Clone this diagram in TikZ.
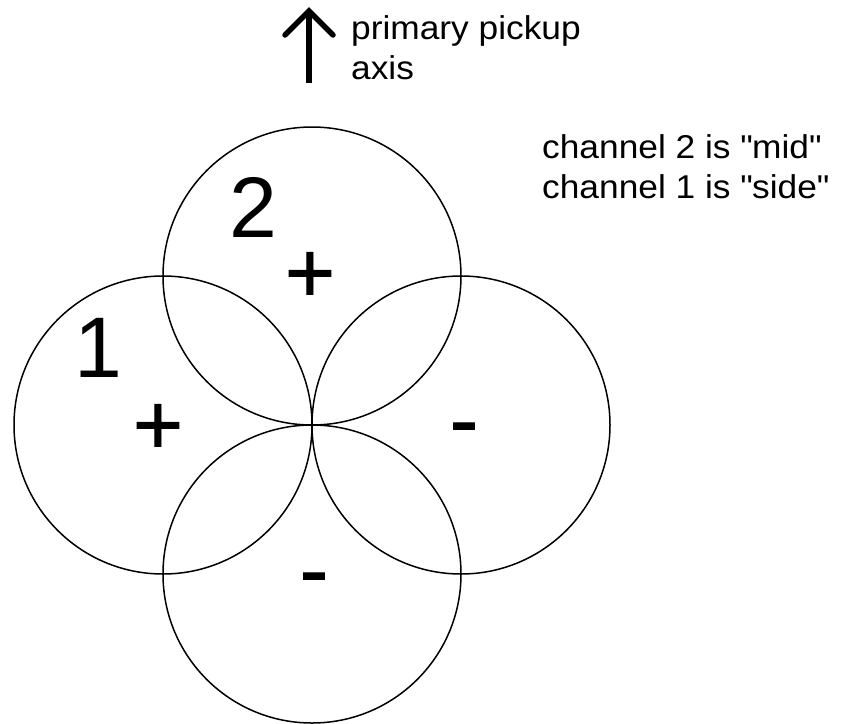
\documentclass[tikz,border=0pt]{standalone}
\usepackage{fontspec}
\setmainfont{Liberation Sans}
\newfontfamily\lblfont[FakeStretch=1.07]{Liberation Sans}
\newfontfamily\signfont[FakeBold=1]{Liberation Sans}
\begin{document}
\begin{tikzpicture}[x=1pt,y=-1pt,
  lobe/.style={draw, circle, line width=1.5pt, minimum size=298pt, inner sep=0pt},
  bigdigit/.style={font=\fontsize{86}{86}\selectfont, inner sep=0pt, anchor=base west},
  bigsign/.style={font=\signfont\fontsize{86}{86}\selectfont, inner sep=0pt, anchor=base},
  smalltxt/.style={font=\lblfont\fontsize{33}{40}\selectfont, inner sep=0pt, anchor=base west, align=left},
  axisline/.style={line width=5.5pt}]
\useasboundingbox (0,0) rectangle (846,723);
% circles
\node[lobe] (top) at (312,276) {};
\node[lobe] (left) at (163,425) {};
\node[lobe] (right) at (461,425) {};
\node[lobe] (bottom) at (312,574) {};
% centre cross
\coordinate (c) at (312,425);
\draw[line width=2pt] ([xshift=-6pt]c) -- ([xshift=6pt]c) ([yshift=-6pt]c) -- ([yshift=6pt]c);
% labels
\node[bigdigit] (n2) at (229,237) {2};
\node[bigdigit] (n1) at (74,377) {1};
\node[bigsign] (ptop) at (310,302) {+};
\node[bigsign] (pleft) at (158,454) {+};
\node[bigsign] (mright) at (464,449) {-};
\node[bigsign] (mbottom) at (314,599) {-};
% axis arrow
\coordinate (axb) at (309,83);
\coordinate (axt) at (309,11);
\draw[axisline] (axb) -- ([yshift=-3pt]axt);
\draw[axisline, line cap=round, line join=miter] ([shift={(-24,24)}]axt) -- (axt) -- ([shift={(24,24)}]axt);
\node[smalltxt] (axlbl) at (351,39) {primary pickup};
\node[smalltxt] (axlbl2) at (351,79) {axis};
\node[smalltxt] (ch2) at (542,158) {channel 2 is \textquotedbl mid\textquotedbl};
\node[smalltxt] (ch1) at (542,198) {channel 1 is \textquotedbl side\textquotedbl};
\end{tikzpicture}
\end{document}
